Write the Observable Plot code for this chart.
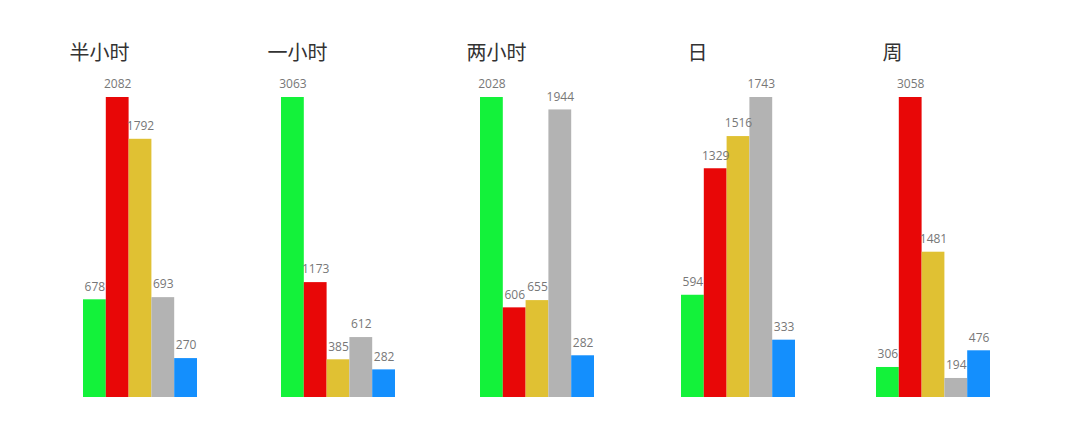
<!DOCTYPE html>
<html>
<head>
<meta charset="utf-8">
<script src="https://cdn.jsdelivr.net/npm/d3@7"></script>
<script src="https://cdn.jsdelivr.net/npm/@observablehq/plot@0.6"></script>
<style>
  html, body { margin: 0; padding: 0; background: #fff; }
  #chart { position: relative; width: 1080px; height: 432px; overflow: hidden; }
  #chart > svg { position: absolute; top: 0; }
</style>
</head>
<body>
<div id="chart"></div>
<script>
const periods = ["半小时", "一小时", "两小时", "日", "周"];
const seriesKeys = ["s1", "s2", "s3", "s4", "s5"];
const seriesColors = ["#13f23a", "#e80707", "#e0c133", "#b3b3b3", "#148ffd"];
const s1Values = [678, 3063, 2028, 594, 306];
const s2Values = [2082, 1173, 606, 1329, 3058];
const s3Values = [1792, 385, 655, 1516, 1481];
const s4Values = [693, 612, 1944, 1743, 194];
const s5Values = [270, 282, 282, 333, 476];

const allValues = [s1Values, s2Values, s3Values, s4Values, s5Values];
const panelLefts = [83, 281, 480, 681, 876];
const chart = document.getElementById("chart");

periods.forEach((p, i) => {
  const rows = seriesKeys.map((k, j) => ({ key: k, value: allValues[j][i] }));
  const max = d3.max(rows, d => d.value);
  const plot = Plot.plot({
    width: 200,
    height: 432,
    marginLeft: 0,
    marginRight: 86,
    marginTop: 97,
    marginBottom: 35,
    style: { fontFamily: "'Open Sans', 'Noto Sans CJK SC', sans-serif", background: "transparent", overflow: "visible" },
    x: { domain: seriesKeys, padding: 0, round: false, axis: null },
    y: { domain: [0, max], axis: null },
    color: { domain: seriesKeys, range: seriesColors },
    marks: [
      Plot.barY(rows, { x: "key", y: "value", fill: "key", inset: 0 }),
      Plot.text(rows, { x: "key", y: "value", text: d => String(d.value), dy: -13, lineAnchor: "middle", fill: "#777", fontSize: 12 }),
      Plot.text([p], { frameAnchor: "top", text: d => d, dx: -41, dy: -44, lineAnchor: "middle", fontSize: 20, fill: "#333", fontFamily: "'Noto Sans CJK SC', sans-serif" })
    ]
  });
  plot.style.left = panelLefts[i] + "px";
  chart.appendChild(plot);
});
</script>
</body>
</html>
